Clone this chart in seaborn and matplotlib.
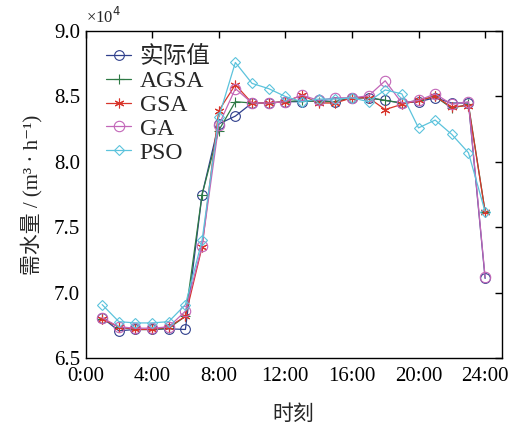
import matplotlib
matplotlib.use("Agg")
import matplotlib.pyplot as plt
import seaborn as sns
import pandas as pd

hours = list(range(1, 25))
actual = [6.81, 6.71, 6.72, 6.72, 6.725, 6.72, 7.75, 8.29, 8.35, 8.45, 8.45, 8.46,
          8.46, 8.47, 8.46, 8.49, 8.49, 8.47, 8.45, 8.46, 8.49, 8.45, 8.45, 7.11]
agsa = [6.80, 6.74, 6.72, 6.72, 6.73, 6.82, 7.75, 8.24, 8.46, 8.45, 8.45, 8.46,
        8.47, 8.46, 8.46, 8.49, 8.49, 8.47, 8.45, 8.47, 8.50, 8.41, 8.44, 7.62]
gsa = [6.80, 6.74, 6.72, 6.72, 6.74, 6.82, 7.35, 8.39, 8.59, 8.45, 8.45, 8.46,
       8.51, 8.45, 8.45, 8.49, 8.49, 8.40, 8.44, 8.47, 8.50, 8.42, 8.43, 7.62]
ga = [6.81, 6.74, 6.73, 6.73, 6.74, 6.86, 7.36, 8.28, 8.56, 8.45, 8.45, 8.46,
      8.51, 8.47, 8.49, 8.49, 8.505, 8.62, 8.45, 8.47, 8.52, 8.44, 8.46, 7.12]
pso = [6.91, 6.78, 6.77, 6.77, 6.78, 6.91, 7.40, 8.34, 8.76, 8.60, 8.56, 8.50,
       8.46, 8.48, 8.48, 8.49, 8.46, 8.55, 8.52, 8.26, 8.32, 8.21, 8.07, 7.62]

names = ["实际值", "AGSA", "GSA", "GA", "PSO"]
series = [actual, agsa, gsa, ga, pso]
colors = ["#2f3f8c", "#2e7a45", "#d8352b", "#c266b8", "#5cc3dc"]
markers = ["o", "+", (6, 2, 0), "o", "D"]
msizes = [7, 7, 7, 7.5, 5.5]
xticks = [0, 4, 8, 12, 16, 20, 24]
xticklabels = ["0:00", "4:00", "8:00", "12:00", "16:00", "20:00", "24:00"]
yticks = [6.5, 7.0, 7.5, 8.0, 8.5, 9.0]

sns.set_style("white")
fam = ['Liberation Serif', 'Noto Sans CJK SC', 'DejaVu Serif']
plt.rcParams['font.family'] = fam

fig = plt.figure(figsize=(5.12, 4.25), dpi=100)
ax = fig.add_axes([0.167, 0.157, 0.813, 0.770])

for name, vals, c, m, ms in zip(names, series, colors, markers, msizes):
    df = pd.DataFrame({"h": hours, "v": vals})
    sns.lineplot(data=df, x="h", y="v", ax=ax, color=c, marker=m, markersize=ms,
                 markerfacecolor="none", markeredgecolor=c, markeredgewidth=0.8,
                 linewidth=0.9, label=name)

ax.set_xlim(0, 25)
ax.set_ylim(6.5, 9.0)
ax.set_xticks(xticks)
ax.set_xticklabels(xticklabels)
ax.set_yticks(yticks)
ax.set_yticklabels([f"{t:.1f}" for t in yticks])
ax.tick_params(axis="both", direction="in", length=5, width=1, top=True, right=True,
               labelsize=15, colors="black")
ax.tick_params(axis="x", pad=6)
ax.tick_params(axis="y", pad=4)
for s in ax.spines.values():
    s.set_color("black")
    s.set_linewidth(1.0)

ax.set_xlabel("时刻", fontsize=15, labelpad=14)
ax.set_ylabel("需水量 / (m³ · h⁻¹)", fontsize=15, labelpad=8)
ax.text(0.0, 1.012, "×10$^4$", transform=ax.transAxes, fontsize=12,
        ha="left", va="bottom")

leg = ax.legend(loc="upper left", frameon=False, fontsize=17, handlelength=1.05,
                handletextpad=0.35, labelspacing=0.1, borderaxespad=0.1,
                bbox_to_anchor=(0.022, 0.99))

fig.savefig("out.png", dpi=100)
